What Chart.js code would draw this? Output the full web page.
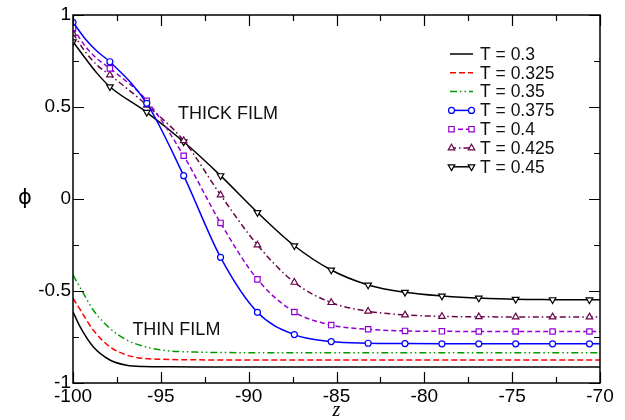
<!DOCTYPE html>
<html>
<head>
<meta charset="utf-8">
<script src="https://cdn.jsdelivr.net/npm/chart.js@4.4.1/dist/chart.umd.min.js"></script>
<style>
  html, body { margin: 0; padding: 0; background: #fff; }
  #wrap { width: 625px; height: 420px; }
  canvas { display: block; }
</style>
</head>
<body>
<div id="wrap"><canvas id="c" width="625" height="420"></canvas></div>
<script>
// ---- thin film profiles (drawn without markers) ----
const thinZ   = [-100, -99.6, -98.85, -97.9, -96.95, -96, -95.05, -93, -90, -80, -70];
const phiT300 = [-0.613, -0.694, -0.803, -0.875, -0.904, -0.911, -0.912, -0.913, -0.913, -0.913, -0.913];
const phiT325 = [-0.540, -0.600, -0.712, -0.803, -0.848, -0.866, -0.871, -0.874, -0.875, -0.875, -0.875];
const phiT350 = [-0.413, -0.480, -0.603, -0.703, -0.766, -0.800, -0.820, -0.832, -0.835, -0.835, -0.835];

// ---- thick film profiles ----
const thickZ  = [-100, -99.3, -98.6, -97.9, -95.8, -93.7, -91.6, -89.5, -87.4, -85.3, -83.2, -81.1, -79, -76.9, -74.8, -72.7, -70.6, -70];
const markerZ = [-100, -97.9, -95.8, -93.7, -91.6, -89.5, -87.4, -85.3, -83.2, -81.1, -79, -76.9, -74.8, -72.7, -70.6];
const phiT375 = [0.960, 0.870, 0.800, 0.746, 0.520, 0.127, -0.317, -0.616, -0.737, -0.775, -0.784, -0.786, -0.787, -0.787, -0.787, -0.787, -0.787, -0.787];
const phiT400 = [0.930, 0.830, 0.760, 0.710, 0.534, 0.235, -0.130, -0.437, -0.614, -0.685, -0.708, -0.717, -0.719, -0.720, -0.720, -0.720, -0.720, -0.720];
const phiT425 = [0.900, 0.800, 0.725, 0.674, 0.510, 0.317, 0.022, -0.250, -0.453, -0.563, -0.610, -0.630, -0.638, -0.640, -0.641, -0.641, -0.641, -0.641];
const phiT450 = [0.855, 0.765, 0.680, 0.610, 0.471, 0.311, 0.127, -0.073, -0.254, -0.386, -0.467, -0.507, -0.527, -0.538, -0.545, -0.547, -0.548, -0.548];

const legendLabels = ['T = 0.3', 'T = 0.325', 'T = 0.35', 'T = 0.375', 'T = 0.4', 'T = 0.425', 'T = 0.45'];
const xTicks = [-100, -95, -90, -85, -80, -75, -70];
const yTicks = [-1, -0.5, 0, 0.5, 1];

const FONT = '"Liberation Sans", Arial, Helvetica, sans-serif';

function pts(zs, vs, marked) {
  return zs.map((z, i) => ({ x: z, y: vs[i], m: marked ? markerZ.includes(z) : false }));
}

function series(label, zs, vs, color, dash, marker) {
  return {
    label: label,
    data: pts(zs, vs, !!marker),
    borderColor: color,
    borderWidth: 1.5,
    borderDash: dash,
    backgroundColor: '#ffffff',
    cubicInterpolationMode: 'monotone',
    pointStyle: marker ? marker.style : 'circle',
    rotation: marker ? (marker.rotation || 0) : 0,
    pointRadius: ctx => (ctx.raw && ctx.raw.m ? marker.r : 0),
    pointBorderColor: color,
    pointBackgroundColor: '#ffffff',
    pointBorderWidth: 1.2,
    pointHoverRadius: 0,
    mk: marker || null
  };
}

const datasets = [
  series(legendLabels[0], thinZ, phiT300, '#000000', [], null),
  series(legendLabels[1], thinZ, phiT325, '#ff0000', [6, 3], null),
  series(legendLabels[2], thinZ, phiT350, '#009a00', [7, 3, 1.5, 3, 1.5, 3], null),
  series(legendLabels[3], thickZ, phiT375, '#0000ff', [], { style: 'circle', r: 3 }),
  series(legendLabels[4], thickZ, phiT400, '#9400d3', [5, 3], { style: 'rect', r: 3.8 }),
  series(legendLabels[5], thickZ, phiT425, '#67074a', [6, 3, 1.5, 3], { style: 'triangle', r: 3.8 }),
  series(legendLabels[6], thickZ, phiT450, '#000000', [], { style: 'triangle', r: 3.8, rotation: 180 })
];

// small marker painter for the legend samples
function paintMarker(ctx, mk, x, y, color) {
  ctx.save();
  ctx.setLineDash([]);
  ctx.strokeStyle = color;
  ctx.fillStyle = '#ffffff';
  ctx.lineWidth = 1.2;
  ctx.beginPath();
  if (mk.style === 'circle') {
    ctx.arc(x, y, mk.r, 0, Math.PI * 2);
  } else if (mk.style === 'rect') {
    const h = mk.r * Math.SQRT1_2;
    ctx.rect(x - h, y - h, 2 * h, 2 * h);
  } else {
    const s = mk.rotation ? -1 : 1;
    const r = mk.r;
    ctx.moveTo(x, y - s * r);
    ctx.lineTo(x + r * 0.866, y + s * r * 0.5);
    ctx.lineTo(x - r * 0.866, y + s * r * 0.5);
    ctx.closePath();
  }
  ctx.fill();
  ctx.stroke();
  ctx.restore();
}

const framePlugin = {
  id: 'frame',
  afterDraw(chart) {
    const ctx = chart.ctx;
    const a = chart.chartArea;
    const xs = chart.scales.x, ys = chart.scales.y;
    ctx.save();
    ctx.strokeStyle = '#000';
    ctx.lineWidth = 1.5;
    ctx.setLineDash([]);
    ctx.strokeRect(a.left, a.top, a.right - a.left, a.bottom - a.top);

    // inward ticks on all four sides
    ctx.lineWidth = 1.2;
    ctx.beginPath();
    for (let v = -100; v <= -70 + 1e-9; v += 2.5) {
      const major = Math.abs(v % 5) < 1e-9;
      const len = major ? 11 : 6;
      const px = Math.round(xs.getPixelForValue(v)) + 0.5;
      ctx.moveTo(px, a.bottom); ctx.lineTo(px, a.bottom - len);
      ctx.moveTo(px, a.top); ctx.lineTo(px, a.top + len);
    }
    for (let v = -1; v <= 1 + 1e-9; v += 0.25) {
      const major = Math.abs((v * 2) - Math.round(v * 2)) < 1e-9;
      const len = major ? 11 : 6;
      const py = Math.round(ys.getPixelForValue(v)) + 0.5;
      ctx.moveTo(a.left, py); ctx.lineTo(a.left + len, py);
      ctx.moveTo(a.right, py); ctx.lineTo(a.right - len, py);
    }
    ctx.stroke();

    // region labels
    ctx.fillStyle = '#111';
    ctx.font = '18px ' + FONT;
    ctx.textAlign = 'left';
    ctx.textBaseline = 'middle';
    ctx.fillText('THICK FILM', xs.getPixelForValue(-94.02), ys.getPixelForValue(0.462));
    ctx.fillText('THIN FILM', xs.getPixelForValue(-96.62), ys.getPixelForValue(-0.712));

    // axis titles
    ctx.fillStyle = '#000';
    ctx.textAlign = 'center';
    ctx.font = '21px "DejaVu Sans", sans-serif';
    ctx.fillText('\u03D5', 25, (a.top + a.bottom) / 2);
    ctx.font = 'italic 20px "Liberation Serif", "Times New Roman", serif';
    ctx.fillText('z', (a.left + a.right) / 2, 411);

    // legend
    const lx0 = a.right - 150, lx1 = a.right - 127, tx = a.right - 120;
    ctx.font = '17.5px ' + FONT;
    ctx.textAlign = 'left';
    chart.data.datasets.forEach((ds, i) => {
      const y = a.top + 39 + i * 18.8;
      ctx.save();
      ctx.strokeStyle = ds.borderColor;
      ctx.lineWidth = 1.5;
      ctx.setLineDash(ds.borderDash || []);
      ctx.beginPath();
      ctx.moveTo(lx0, y); ctx.lineTo(lx1, y);
      ctx.stroke();
      ctx.restore();
      if (ds.mk) {
        paintMarker(ctx, ds.mk, lx0 + 1.5, y, ds.borderColor);
        paintMarker(ctx, ds.mk, lx1 - 1.5, y, ds.borderColor);
      }
      ctx.fillStyle = '#111';
      ctx.fillText(ds.label, tx, y + 1);
    });
    ctx.restore();
  }
};

new Chart(document.getElementById('c'), {
  type: 'line',
  data: { datasets: datasets },
  options: {
    responsive: false,
    animation: false,
    events: [],
    layout: { padding: { top: 15, right: 25, left: 0, bottom: 0 } },
    plugins: { legend: { display: false }, tooltip: { enabled: false } },
    scales: {
      x: {
        type: 'linear',
        min: -100, max: -70,
        afterFit: s => { s.height = 37; },
        afterBuildTicks: s => { s.ticks = xTicks.map(v => ({ value: v })); },
        grid: { display: false, drawTicks: false },
        border: { display: false },
        ticks: { color: '#000', padding: 2, font: { family: FONT, size: 19 }, maxRotation: 0, callback: v => String(v) }
      },
      y: {
        type: 'linear',
        min: -1, max: 1,
        afterFit: s => { s.width = 73; },
        afterBuildTicks: s => { s.ticks = yTicks.map(v => ({ value: v })); },
        grid: { display: false, drawTicks: false },
        border: { display: false },
        ticks: { color: '#000', padding: 2, font: { family: FONT, size: 19 }, callback: v => String(v) }
      }
    }
  },
  plugins: [framePlugin]
});
</script>
</body>
</html>
